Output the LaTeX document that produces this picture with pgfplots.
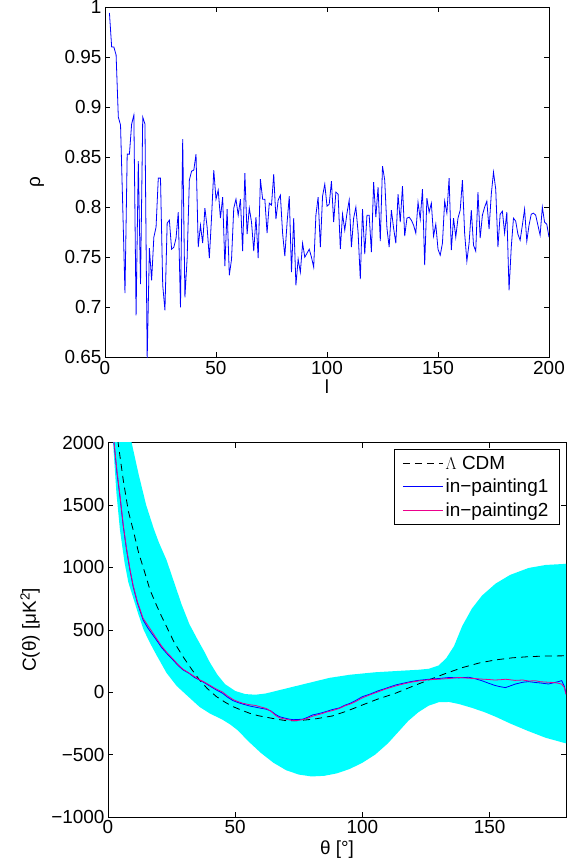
\documentclass[border=0pt]{standalone}
\usepackage{fontspec}
\setmainfont{Liberation Sans}
\usepackage{pgfplots}
\pgfplotsset{compat=1.18}
\definecolor{bandcyan}{RGB}{0,255,255}
\begin{document}
\begin{tikzpicture}
\useasboundingbox (0bp,0bp) rectangle (574bp,866bp);
\pgfplotsset{every axis/.append style={
  scale only axis, tick align=inside, major tick length=5bp,
  axis line style={line width=0.7bp},
  every tick/.style={black, line width=0.6bp},
  tick label style={font=\fontsize{19}{22}\selectfont},
  label style={font=\fontsize{19}{22}\selectfont},
  /pgf/number format/assume math mode=true}}
% ---------------- top panel ----------------
\begin{axis}[at={(105bp,508.7bp)}, anchor=south west,
  width=444bp, height=350.3bp,
  xmin=0, xmax=200, ymin=0.65, ymax=1,
  xtick={0,50,100,150,200},
  ytick={0.65,0.7,0.75,0.8,0.85,0.9,0.95,1},
  yticklabels={0.65,0.7,0.75,0.8,0.85,0.9,0.95,1},
  xlabel={l}, ylabel={ρ},
  xlabel style={yshift=1bp},
  ylabel style={at={(axis description cs:-0.153,0.5)}, anchor=center}]
\addplot[blue, line width=0.8bp] coordinates {
(2,0.994)(3,0.960)(4,0.960)(5,0.952)(6,0.890)(7,0.882)(8,0.800)(9,0.714)(10,0.853)
(11,0.853)(12,0.883)(13,0.892)(14,0.692)(15,0.846)(16,0.723)(17,0.890)(18,0.883)(19,0.648)(20,0.759)
(21,0.727)(22,0.770)(23,0.780)(24,0.829)(25,0.829)(26,0.722)(27,0.697)(28,0.784)(29,0.787)(30,0.758)
(31,0.760)(32,0.769)(33,0.795)(34,0.700)(35,0.868)(36,0.710)(37,0.749)(38,0.827)(39,0.836)(40,0.837)
(41,0.853)(42,0.760)(43,0.782)(44,0.764)(45,0.799)(46,0.780)(47,0.749)(48,0.790)(49,0.837)(50,0.808)
(51,0.817)(52,0.789)(53,0.810)(54,0.741)(55,0.798)(56,0.732)(57,0.748)(58,0.799)(59,0.808)(60,0.792)
(61,0.808)(62,0.756)(63,0.834)(64,0.773)(65,0.799)(66,0.785)(67,0.756)(68,0.790)(69,0.749)(70,0.828)
(71,0.808)(72,0.808)(73,0.774)(74,0.804)(75,0.802)(76,0.833)(77,0.788)(78,0.807)(79,0.812)(80,0.774)
(81,0.751)(82,0.784)(83,0.811)(84,0.735)(85,0.789)(86,0.722)(87,0.748)(88,0.735)(89,0.764)(90,0.750)
(91,0.754)(92,0.758)(93,0.750)(94,0.740)(95,0.792)(96,0.810)(97,0.760)(98,0.811)(99,0.823)(100,0.801)
(101,0.803)(102,0.826)(103,0.785)(104,0.815)(105,0.813)(106,0.758)(107,0.793)(108,0.777)(109,0.794)(110,0.807)
(111,0.760)(112,0.789)(113,0.800)(114,0.775)(115,0.728)(116,0.798)(117,0.753)(118,0.792)(119,0.792)(120,0.755)
(121,0.825)(122,0.790)(123,0.820)(124,0.766)(125,0.841)(126,0.827)(127,0.779)(128,0.760)(129,0.797)(130,0.779)
(131,0.764)(132,0.813)(133,0.785)(134,0.821)(135,0.771)(136,0.789)(137,0.790)(138,0.787)(139,0.782)(140,0.774)
(141,0.805)(142,0.788)(143,0.818)(144,0.742)(145,0.809)(146,0.795)(147,0.804)(148,0.771)(149,0.783)(150,0.758)
(151,0.752)(152,0.764)(153,0.806)(154,0.794)(155,0.829)(156,0.757)(157,0.789)(158,0.770)(159,0.789)(160,0.797)
(161,0.827)(162,0.774)(163,0.746)(164,0.764)(165,0.797)(166,0.762)(167,0.756)(168,0.815)(169,0.769)(170,0.792)
(171,0.800)(172,0.806)(173,0.778)(174,0.813)(175,0.835)(176,0.818)(177,0.760)(178,0.793)(179,0.796)(180,0.774)
(181,0.795)(182,0.717)(183,0.760)(184,0.789)(185,0.786)(186,0.773)(187,0.767)(188,0.782)(189,0.798)(190,0.766)
(191,0.782)(192,0.793)(193,0.794)(194,0.792)(195,0.782)(196,0.772)(197,0.800)(198,0.785)(199,0.783)(200,0.770)
};
\end{axis}
% ---------------- bottom panel ----------------
\begin{axis}[at={(108bp,49bp)}, anchor=south west,
  width=458bp, height=374.3bp,
  xmin=0, xmax=180, ymin=-1000, ymax=2000,
  xtick={0,50,100,150},
  ytick={-1000,-500,0,500,1000,1500,2000},
  yticklabels={−1000,−500,0,500,1000,1500,2000},
  xlabel={θ [°]}, ylabel={C(θ) [μK\textsuperscript{2}]},
  ylabel style={at={(axis description cs:-0.17,0.5)}, anchor=center},
  legend style={at={(axis description cs:0.985,0.983)}, anchor=north east,
    font=\fontsize{19}{22}\selectfont, draw=black, line width=0.6bp,
    inner xsep=8bp, inner ysep=4bp, row sep=3.5bp,
    nodes={inner sep=2.5bp}},
  legend cell align=left,
  legend image code/.code={\draw[#1] (0bp,0bp) -- (40bp,0bp);}]
\addplot[fill=bandcyan, draw=none, forget plot] coordinates {
(0,4200)(3,3300)(6,2600)(9.3,2000)(12,1750)(15,1500)(18,1310)(20,1200)(23,1060)(26,880)
(29,700)(32,545)(35,430)(38,320)(40,240)(43,140)(46,65)(50,10)(54,-15)(58,-20)(62,-10)
(66,10)(70,30)(75,55)(80,80)(87,115)(95,140)(105,160)(115,172)(122,180)(126.1,188)(130,215)
(133,275)(136,370)(139.2,530)(143,670)(147,775)(152.3,870)(158,940)(165.3,996)(172,1020)(179,1028)(180,1030)
(180,-410)(178.2,-400)(172,-365)(165,-310)(158,-250)(152.3,-196)(148,-160)(143,-125)(138,-95)(134,-78)
(130,-80)(126,-108)(122,-160)(118,-230)(114,-320)(110,-410)(105,-500)(100,-565)(95,-615)(90,-650)
(85,-670)(80,-675)(75,-660)(70,-625)(65,-565)(60,-485)(55,-390)(51,-305)(48,-258)(45,-220)(40,-170)(36,-118)(31,-25)(27,50)(23,155)
(19,300)(16.5,395)(14,500)(12,620)(9.8,763)(8,880)(6.5,1040)(4.7,1300)(3.3,1600)(2,2000)(1,2450)(0,2900)
} -- cycle;
\addplot[black, dash pattern=on 7bp off 5bp, line width=0.8bp] coordinates {
(2,2500)(4,1995)(6,1700)(8,1450)(9.9,1300)(12,1120)(14,990)(16.5,820)(19,700)(21,610)(23,526)
(26,400)(29.5,285)(33,180)(36,98)(39,30)(42.6,-35)(46,-80)(49.1,-115)(52,-140)(55.6,-168)(59,-188)
(62.2,-200)(66,-215)(70,-228)(74,-228)(77.8,-222)(82,-212)(88.2,-190)(94,-150)(100,-102)(106,-55)
(113,-8)(120,50)(126.1,99)(132,145)(139.2,197)(146,235)(152.3,259)(159,276)(165.3,285)(172,290)(180,292)
};
\addlegendentry{$\Lambda$ CDM}
\addplot[blue, line width=0.8bp] coordinates {
(1.5,2550)(2.35,2000)(3.5,1760)(4.7,1567)(6,1330)(7.3,1140)(8.6,980)(9.9,846)(11.5,720)(13.8,579)
(15.5,520)(17.1,473)(19,420)(21,360)(23,313)(25.5,260)(27.5,215)(29.5,179)(32,150)(34,118)(36,98)
(38,75)(40,50)(42.6,18)(45,-8)(47,-40)(49.1,-67)(51,-82)(53,-95)(55.6,-110)(58,-120)(60,-128)
(62.2,-136)(64,-150)(66,-180)(67.4,-196)(69,-205)(71.3,-216)(73,-220)(75,-218)(76.5,-216)(78,-205)
(80.4,-182)(82,-175)(84,-165)(85.7,-155)(88,-140)(90.9,-126)(93,-105)(95,-90)(97,-70)(100,-35)
(103,-15)(106,10)(109,30)(113,58)(116,72)(119,85)(122,95)(126,104)(130,110)(134,118)(138,115)
(141.8,120)(144,110)(147,92)(149.6,72)(152,55)(154,45)(156.2,37)(158,50)(160,65)(163,80)(165.3,85)
(168,78)(170,74)(173.1,66)(175,75)(177,85)(178.3,93)(179.3,50)(180,-10)
};
\addlegendentry{in−painting1}
\addplot[magenta, line width=0.8bp] coordinates {
(1.5,2600)(2.4,2000)(3.5,1780)(4.7,1580)(6,1340)(7.3,1150)(8.6,990)(9.9,855)(11.5,730)(13.8,592)
(15.5,540)(17.1,492)(19,432)(21,372)(23,322)(25.5,268)(27.5,222)(29.5,184)(32,152)(34,125)(36,100)
(38,80)(40,56)(42.6,25)(45,2)(47,-30)(49.1,-58)(51,-75)(53,-88)(55.6,-100)(58,-106)(60,-118)
(62.2,-130)(64,-152)(66,-188)(67.4,-205)(69,-212)(71.3,-222)(73,-228)(75,-225)(76.5,-220)(78,-212)
(80.4,-192)(82,-183)(84,-172)(85.7,-160)(88,-148)(90.9,-130)(93,-110)(95,-96)(97,-78)(100,-45)
(103,-20)(106,2)(109,25)(113,50)(116,66)(119,80)(122,90)(126,100)(130,104)(134,110)(138,118)
(141.8,112)(144,110)(147,105)(149.6,102)(152,98)(154,100)(156.2,104)(158,100)(160,95)(163,98)(165.3,90)
(168,92)(170,84)(173.1,80)(175,78)(177,72)(178.3,65)(179.3,40)(180,-18)
};
\addlegendentry{in−painting2}
\end{axis}
\end{tikzpicture}
\end{document}
